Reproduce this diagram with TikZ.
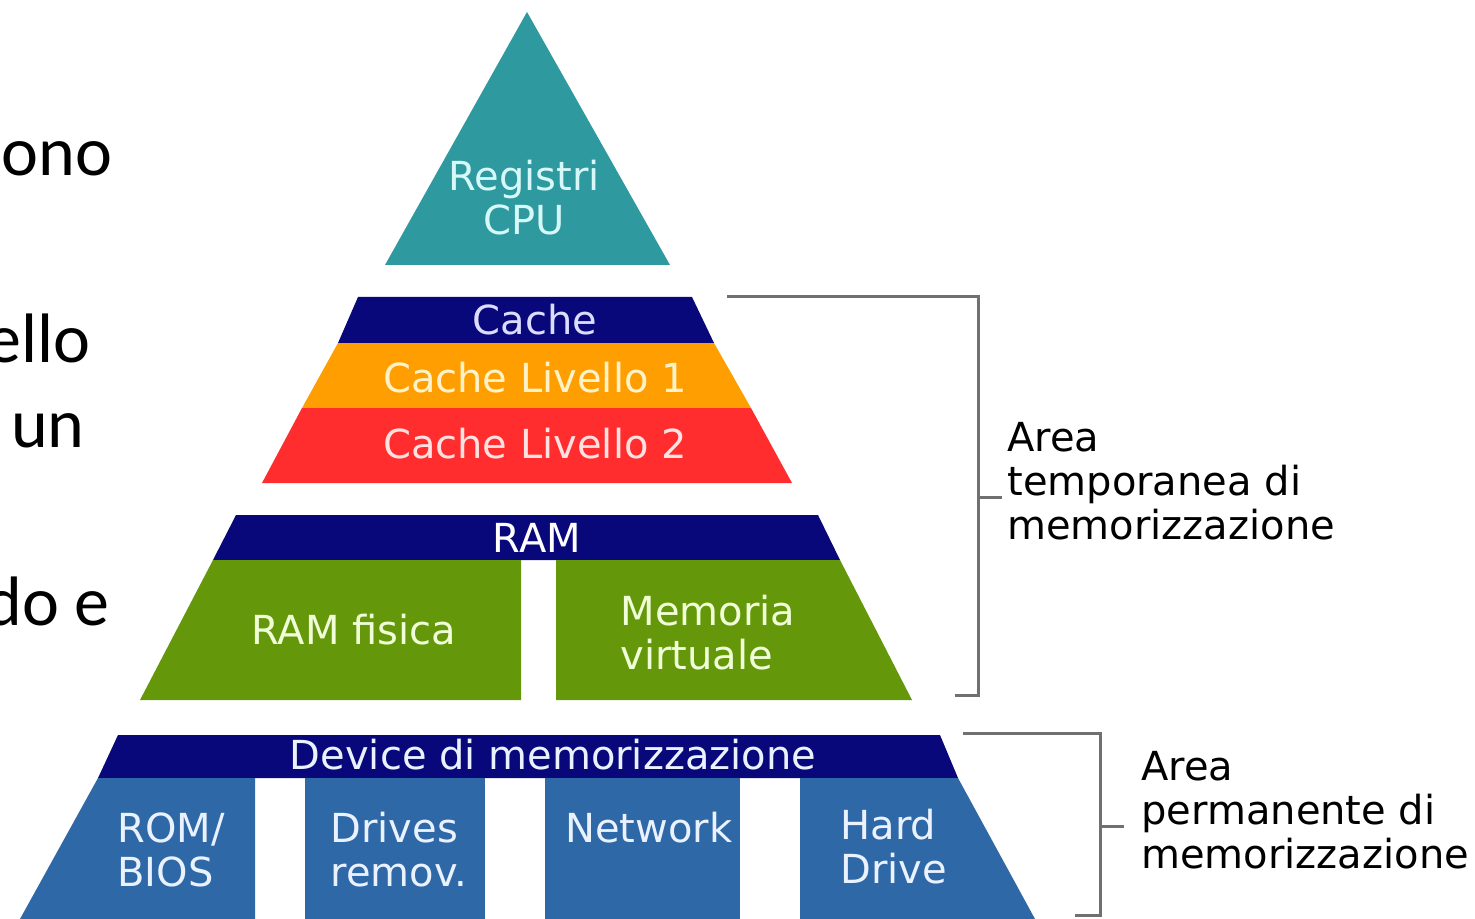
\documentclass[tikz,border=0pt]{standalone}
\usepackage{fontspec}
\setmainfont{DejaVu Sans}
\newfontfamily\slidefont{Carlito}
\definecolor{tealc}{RGB}{46,153,158}
\definecolor{navyc}{RGB}{8,8,122}
\definecolor{orangec}{RGB}{255,158,0}
\definecolor{redc}{RGB}{255,45,45}
\definecolor{greenc}{RGB}{100,152,10}
\definecolor{bluec}{RGB}{46,104,166}
\definecolor{brackc}{RGB}{112,112,112}
\definecolor{txcyan}{RGB}{215,248,248}
\definecolor{txlav}{RGB}{220,220,255}
\definecolor{txyel}{RGB}{255,242,200}
\definecolor{txpink}{RGB}{255,225,225}
\definecolor{txgreen}{RGB}{240,255,215}
\definecolor{txblue}{RGB}{235,242,255}
\begin{document}
\begin{tikzpicture}[x=0.5pt,y=-0.5pt,
  lab/.style={font=\fontsize{20}{22}\selectfont, inner sep=0pt, align=center},
  side/.style={font=\fontsize{20}{22}\selectfont, inner sep=0pt, align=left, anchor=west, text=black},
  slide/.style={font=\slidefont\fontsize{35}{40}\selectfont, inner sep=0pt, anchor=base east, text=black},
  brack/.style={draw=brackc, line width=1.5pt}]
\useasboundingbox (0,0) rectangle (1475,919);
\fill[white] (0,0) rectangle (1475,919);

% slide text cut at left edge
\node[slide] (s1) at (113,176) {ono};
\node[slide] (s2) at (91,362) {ello};
\node[slide] (s3) at (85,447) {un};
\node[slide] (s4) at (110,625) {do e};

% tier 1: registers
\fill[tealc] (527,12) -- (670,265) -- (385,265) -- cycle;
\node[lab, text=txcyan] (reg) at (524,198) {Registri\\CPU};

% tier 2: cache
\fill[navyc] (358,297) -- (692,297) -- (714,343) -- (338,343) -- cycle;
\fill[orangec] (338,343) -- (714,343) -- (751,408) -- (302,408) -- cycle;
\fill[redc] (302,408) -- (751,408) -- (792,483) -- (262,483) -- cycle;
\node[lab, text=txlav] (cache) at (535,320) {Cache};
\node[lab, text=txyel] (c1) at (535,378) {Cache Livello 1};
\node[lab, text=txpink] (c2) at (535,444) {Cache Livello 2};

% tier 3: RAM
\fill[navyc] (236,515) -- (818,515) -- (840,560) -- (213,560) -- cycle;
\fill[greenc] (213,560) -- (521,560) -- (521,700) -- (140,700) -- cycle;
\fill[greenc] (556,560) -- (840,560) -- (912,700) -- (556,700) -- cycle;
\node[lab, text=white] (ram) at (537,538) {RAM};
\node[lab, text=txgreen] (ramf) at (354,630) {RAM fisica};
\node[lab, text=txgreen, align=left] (virt) at (708,633) {Memoria\\virtuale};

% tier 4: storage devices
\fill[navyc] (118,735) -- (940,735) -- (958,778) -- (98,778) -- cycle;
\fill[bluec] (98,778) -- (255,778) -- (255,919) -- (20,919) -- cycle;
\fill[bluec] (305,778) rectangle (485,919);
\fill[bluec] (545,778) rectangle (740,919);
\fill[bluec] (800,778) -- (958,778) -- (1035,919) -- (800,919) -- cycle;
\node[lab, text=txblue] (dev) at (553,755) {Device di memorizzazione};
\node[lab, text=txblue, align=left, anchor=west] (rom) at (117,850) {ROM/\\BIOS};
\node[lab, text=txblue, align=left, anchor=west] (drv) at (330,850) {Drives\\remov.};
\node[lab, text=txblue, align=left, anchor=west] (net) at (565,828) {Network};
\node[lab, text=txblue, align=left, anchor=west] (hd) at (840,847) {Hard\\Drive};

% bracket: temporary area
\coordinate (t1) at (727,297);
\coordinate (t2) at (978,297);
\coordinate (t3) at (978,695);
\coordinate (t4) at (955,695);
\coordinate (tm) at (978,497);
\node[side] (tmp) at (1007,481) {Area\\temporanea di\\memorizzazione};
\draw[brack] (t1) -- (t2) -- (t3) -- (t4);
\draw[brack] (tm) -- ++(24,0);

% bracket: permanent area
\coordinate (p1) at (963,733);
\coordinate (p2) at (1100,733);
\coordinate (p3) at (1100,915);
\coordinate (p4) at (1075,915);
\coordinate (pm) at (1100,826);
\node[side] (perm) at (1141,810) {Area\\permanente di\\memorizzazione};
\draw[brack] (p1) -- (p2) -- (p3) -- (p4);
\draw[brack] (pm) -- ++(24,0);
\end{tikzpicture}
\end{document}
